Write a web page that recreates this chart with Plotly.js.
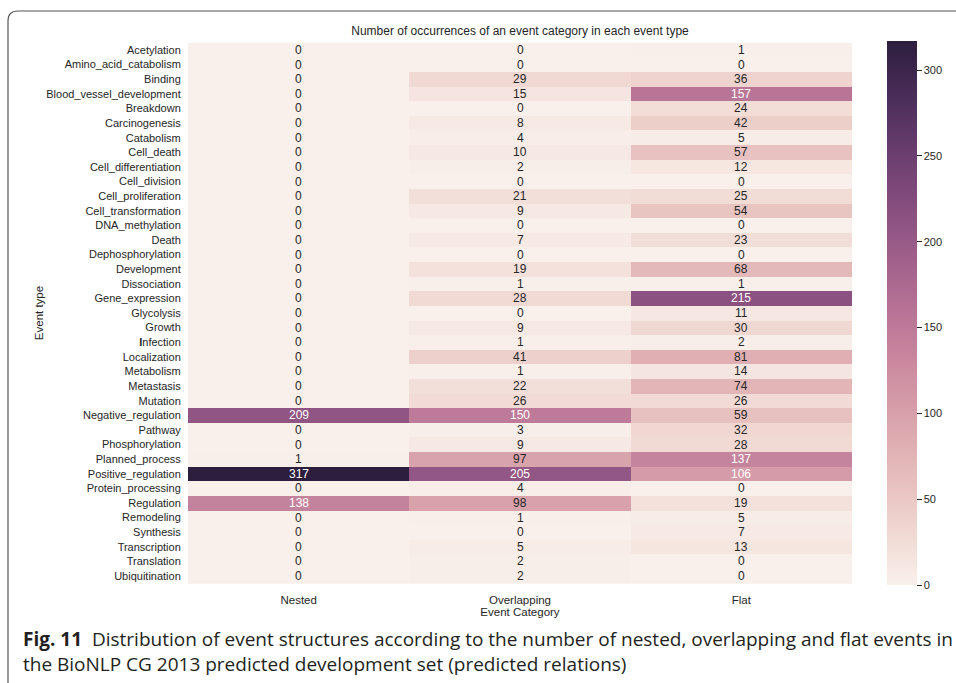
<!DOCTYPE html>
<html>
<head>
<meta charset="utf-8">
<script src="https://cdn.plot.ly/plotly-3.0.1.min.js"></script>
<style>
html,body{margin:0;padding:0;background:#fff;}
#chart{width:956px;height:683px;}
</style>
</head>
<body>
<div id="chart"></div>
<script>
const eventTypes = ["Acetylation","Amino_acid_catabolism","Binding","Blood_vessel_development","Breakdown","Carcinogenesis","Catabolism","Cell_death","Cell_differentiation","Cell_division","Cell_proliferation","Cell_transformation","DNA_methylation","Death","Dephosphorylation","Development","Dissociation","Gene_expression","Glycolysis","Growth","Infection","Localization","Metabolism","Metastasis","Mutation","Negative_regulation","Pathway","Phosphorylation","Planned_process","Positive_regulation","Protein_processing","Regulation","Remodeling","Synthesis","Transcription","Translation","Ubiquitination"];
const categories = ["Nested","Overlapping","Flat"];
const nested =      [0,0,0,0,0,0,0,0,0,0,0,0,0,0,0,0,0,0,0,0,0,0,0,0,0,209,0,0,1,317,0,138,0,0,0,0,0];
const overlapping = [0,0,29,15,0,8,4,10,2,0,21,9,0,7,0,19,1,28,0,9,1,41,1,22,26,150,3,9,97,205,4,98,1,0,5,2,2];
const flat =        [1,0,36,157,24,42,5,57,12,0,25,54,0,23,0,68,1,215,11,30,2,81,14,74,26,59,32,28,137,106,0,19,5,7,13,0,0];
const colorbarTicks = [0,50,100,150,200,250,300];

const series = [nested, overlapping, flat];
const z = eventTypes.map((_, i) => series.map(s => s[i]));
const zmax = Math.max(...nested, ...overlapping, ...flat);

const cubehelix = [
  [0.0,"#f9f0eb"],[0.1,"#f0d7d1"],[0.2,"#e6bdbc"],[0.3,"#daa4ac"],[0.4,"#cb8ba0"],
  [0.5,"#b87496"],[0.6,"#a0608b"],[0.7,"#854d7e"],[0.8,"#683d6e"],[0.9,"#4a2d59"],[1.0,"#2d1e3e"]
];

const FONT = "Liberation Sans, Arial, sans-serif";
const CAPFONT = "Open Sans, Noto Sans, sans-serif";

const annotations = [];
eventTypes.forEach((et, i) => {
  categories.forEach((c, j) => {
    const v = series[j][i];
    annotations.push({
      x: c, y: et, xref: "x", yref: "y", text: String(v), showarrow: false,
      font: {family: FONT, size: 12, color: v > 100 ? "#ffffff" : "#262626"}
    });
  });
});

// caption
const px = x => (x - 188) / 664;
const py = y => (585 - y) / 544;
annotations.push({
  xref: "paper", yref: "paper", x: px(21), y: py(639), xanchor: "left", yanchor: "middle",
  showarrow: false, align: "left",
  text: "<b>Fig. 11</b>  Distribution of event structures according to the number of nested, overlapping and flat events in",
  font: {family: CAPFONT, size: 19, color: "#231f20"}
});
annotations.push({
  xref: "paper", yref: "paper", x: px(21), y: py(664), xanchor: "left", yanchor: "middle",
  showarrow: false, align: "left",
  text: "the BioNLP CG 2013 predicted development set (predicted relations)",
  font: {family: CAPFONT, size: 19, color: "#231f20"}
});

const L = px(8), T = py(11), B = py(690), R = px(962);
const rx = 10 / 664, ry = 10 / 544;
const framePath = `M ${L} ${B} L ${L} ${T - ry} Q ${L} ${T} ${L + rx} ${T} L ${R} ${T}`;

const tickText = eventTypes.map(t => t === "Infection" ? "<b>I</b>nfection" : t);

const data = [{
  type: "heatmap",
  z: z, x: categories, y: eventTypes,
  zmin: 0, zmax: zmax,
  colorscale: cubehelix,
  hoverinfo: "skip",
  xgap: 0, ygap: 0,
  colorbar: {
    x: px(887), xanchor: "left", xref: "paper",
    y: 0.5, yanchor: "middle", len: 1, lenmode: "fraction",
    thickness: 30, thicknessmode: "pixels",
    xpad: 0, ypad: 0, outlinewidth: 0,
    ticks: "outside", ticklen: 5, tickwidth: 1, tickcolor: "#262626",
    tickvals: colorbarTicks,
    tickfont: {family: FONT, size: 11, color: "#262626"}
  }
}];

const layout = {
  width: 956, height: 683,
  margin: {l: 188, r: 104, t: 41, b: 98},
  paper_bgcolor: "#ffffff", plot_bgcolor: "#ffffff",
  font: {family: FONT, size: 11, color: "#262626"},
  title: {
    text: "Number of occurrences of an event category in each event type",
    font: {family: FONT, size: 12, color: "#262626"},
    x: 0.5, xref: "paper", xanchor: "center",
    y: 1 - 31 / 683, yref: "container", yanchor: "middle"
  },
  xaxis: {
    type: "category", showgrid: false, zeroline: false, showline: false,
    ticks: "outside", ticklen: 4, tickcolor: "rgba(0,0,0,0)",
    tickfont: {family: FONT, size: 11.5, color: "#262626"},
    title: {text: "Event Category", font: {family: FONT, size: 11.5, color: "#262626"}, standoff: 0}
  },
  yaxis: {
    type: "category", autorange: "reversed", showgrid: false, zeroline: false, showline: false,
    ticks: "outside", ticklen: 4, tickcolor: "rgba(0,0,0,0)",
    tickvals: eventTypes, ticktext: tickText,
    tickfont: {family: FONT, size: 11, color: "#262626"},
    title: {text: "Event type", font: {family: FONT, size: 11.5, color: "#262626"}, standoff: 0}
  },
  annotations: annotations,
  shapes: [{
    type: "path", xref: "paper", yref: "paper", path: framePath,
    line: {color: "#555555", width: 1.2}
  }]
};

Plotly.newPlot("chart", data, layout, {displayModeBar: false, staticPlot: true});
</script>
</body>
</html>
